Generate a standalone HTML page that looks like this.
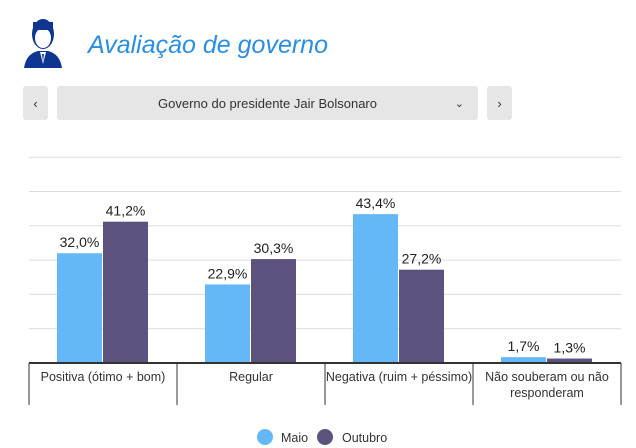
<!DOCTYPE html>
<html><head><meta charset="utf-8"><style>
body{margin:0;width:636px;height:448px;background:#fff;font-family:"Liberation Sans",sans-serif;overflow:hidden;position:relative}
.btn{position:absolute;top:86px;height:34px;background:#e6e6e6;border-radius:3px;color:#333;font-size:13px;display:flex;align-items:center;justify-content:center}
</style></head><body>
<svg style="position:absolute;left:22px;top:14px" width="42" height="56" viewBox="0 0 42 56">
<path d="M2 54 Q4 40 16 37 L26 37 Q38 40 40 54 Z" fill="#0d3591"/>
<path d="M18 38 L21 50 L24 38 Z" fill="#fff"/>
<path d="M20 40 L21 48 L22 40 Z" fill="#0d3591"/>
<ellipse cx="21" cy="20" rx="11" ry="15" fill="#0d3591"/>
<ellipse cx="21" cy="24" rx="8" ry="10" fill="#fff"/>
<rect x="11" y="8" width="20" height="8" fill="#0d3591"/>
</svg>
<div style="position:absolute;left:88px;top:31px;font-size:25px;font-style:italic;color:#2a8fe0">Avaliação de governo</div>
<div class="btn" style="left:23px;width:25px">‹</div>
<div class="btn" style="left:57px;width:421px;font-family:'Liberation Sans Narrow','Liberation Sans',sans-serif">Governo do presidente Jair Bolsonaro<span style="position:absolute;right:14px;font-size:11px">⌄</span></div>
<div class="btn" style="left:487px;width:25px">›</div>
<svg id="c" width="636" height="448" style="position:absolute;left:0;top:0"></svg>
<script>
const categories=["Positiva (ótimo + bom)","Regular","Negativa (ruim + péssimo)","Não souberam ou não|responderam"];
const maio=[32.0,22.9,43.4,1.7];
const outubro=[41.2,30.3,27.2,1.3];
const ticks=[0,10,20,30,40,50,60];
const svg=document.getElementById('c');const NS='http://www.w3.org/2000/svg';
const x0=29,x1=621,base=363,pxPer=3.43;
const y=v=>base-v*pxPer;
const gw=(x1-x0)/categories.length;
function mk(t,a){const e=document.createElementNS(NS,t);for(const k in a)e.setAttribute(k,a[k]);svg.appendChild(e);return e;}
ticks.forEach(t=>{if(t===0)return;const l=mk('line',{x1:x0,x2:x1,y1:y(t),y2:y(t),stroke:'#dcdcdc'});

});
const fmt=v=>v.toFixed(1).replace('.',',')+'%';
categories.forEach((c,i)=>{const gx=x0+i*gw;
[[maio,'#64b8f8',28,'maio'],[outubro,'#5d527d',74,'outubro']].forEach(([arr,col,off,nm])=>{
const v=arr[i];const r=mk('rect',{x:gx+off,y:y(v),width:45,height:base-y(v),fill:col});


const t=mk('text',{x:gx+off+22.5,y:y(v)-6,'text-anchor':'middle','font-size':'14',fill:'#222'});t.textContent=fmt(v);

});
const lines=c.split('|');lines.forEach((s,j)=>{const t=mk('text',{x:gx+gw/2,y:381+j*16,'text-anchor':'middle','font-size':'12.5',fill:'#333'});t.textContent=s;

});
});
for(let i=0;i<=categories.length;i++){const l=mk('line',{x1:x0+i*gw,x2:x0+i*gw,y1:base,y2:405,stroke:'#333'});

}
const ax=mk('line',{x1:x0,x2:x1,y1:base,y2:base,stroke:'#333','stroke-width':2});


[['Maio','#64b8f8',265,281],['Outubro','#5d527d',325,342]].forEach(([n,c,cx,tx])=>{
const g=mk('circle',{cx:cx,cy:437,r:8,fill:c});


const t=mk('text',{x:tx,y:442,'font-size':'12.5',fill:'#333'});t.textContent=n;

});
</script>
</body></html>
